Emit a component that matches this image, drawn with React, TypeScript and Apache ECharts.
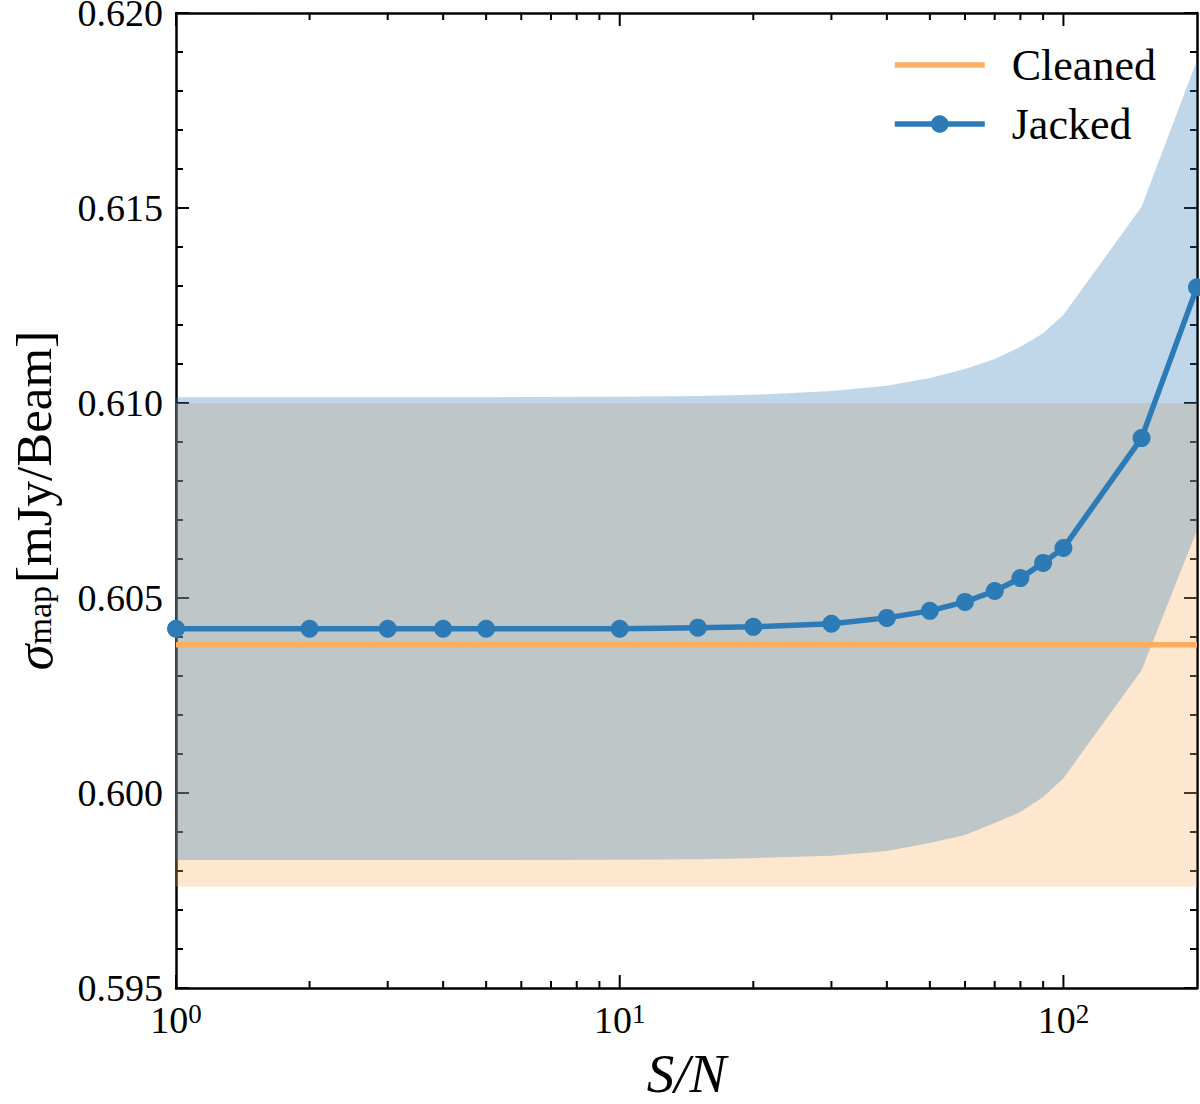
import React, { useEffect, useRef } from "react";
import * as echarts from "echarts";

// ---- data ----
const snr = [1, 2, 3, 4, 5, 10, 15, 20, 30, 40, 50, 60, 70, 80, 90, 100, 150, 200];
const jacked = [0.60421, 0.60421, 0.60421, 0.60421, 0.60421, 0.60421, 0.60424, 0.60426, 0.60434, 0.60449, 0.60467, 0.6049, 0.60518, 0.60551, 0.6059, 0.60628, 0.6091, 0.61297];
const jackedUpper = [0.61015, 0.61015, 0.61015, 0.61015, 0.61015, 0.61016, 0.61018, 0.61021, 0.61031, 0.61044, 0.61064, 0.61087, 0.61113, 0.61144, 0.61179, 0.61226, 0.61503, 0.61879];
const jackedLower = [0.59828, 0.59828, 0.59828, 0.59828, 0.59828, 0.59829, 0.5983, 0.59833, 0.59839, 0.59851, 0.59872, 0.59892, 0.59923, 0.59951, 0.5999, 0.60038, 0.60315, 0.60674];
const cleanedX = [1, 200];
const cleaned = [0.6038, 0.6038];
const cleanedUpper = [0.61, 0.61];
const cleanedLower = [0.5976, 0.5976];
const xMajorTicks = [1, 10, 100];
const xMinorTicks = [2, 3, 4, 5, 6, 7, 8, 9, 20, 30, 40, 50, 60, 70, 80, 90];
const Y_MIN = 0.595;
const Y_MAX = 0.62;
const Y_STEP = 0.005;
const X_MIN = 1;
const X_MAX = 200;

const BLUE = "#2c7bb6";
const ORANGE = "#fdae61";
const FONT = "Liberation Serif";

function bandSeries(name: string, xs: number[], lo: number[], hi: number[], color: string, z: number) {
  return {
    name,
    type: "custom",
    silent: true,
    z,
    encode: { x: 0, y: 1 },
    data: xs.map((x, i) => [x, lo[i], hi[i]]),
    renderItem: (params: any, api: any) => {
      if (params.dataIndex !== 0) return null;
      const top = xs.map((x, i) => api.coord([x, hi[i]]));
      const bot = xs.map((x, i) => api.coord([x, lo[i]])).reverse();
      return {
        type: "polygon",
        shape: { points: [...top, ...bot] },
        style: { fill: color, opacity: 0.3 },
      };
    },
  };
}

export default function App() {
  const ref = useRef<HTMLDivElement>(null);
  useEffect(() => {
    if (!ref.current) return;
    const chart = echarts.init(ref.current, undefined, { renderer: "svg" });
    const tickData = [
      ...xMajorTicks.map((v) => [v, Y_MIN, 1]),
      ...xMinorTicks.map((v) => [v, Y_MIN, 0]),
    ];
    const yAxisCommon = {
      type: "value",
      min: Y_MIN,
      max: Y_MAX,
      interval: Y_STEP,
      splitLine: { show: false },
      axisLine: { show: true, lineStyle: { color: "#000", width: 2.5 } },
      axisTick: { show: true, inside: true, length: 13, lineStyle: { color: "#000", width: 2 } },
      minorTick: { show: true, splitNumber: 5, length: 7, lineStyle: { color: "#000", width: 2 } },
    };
    const option: any = {
      animation: false,
      backgroundColor: "#fff",
      textStyle: { fontFamily: FONT },
      grid: { left: 176, right: 3, top: 13, bottom: 116, containLabel: false, outerBoundsMode: "none" },
      legend: {
        orient: "vertical",
        left: 887,
        top: 38,
        data: [{ name: "Cleaned", itemStyle: { opacity: 0 } }, { name: "Jacked" }],
        itemWidth: 90,
        itemHeight: 22,
        itemGap: 15,
        lineStyle: { width: 5.5 },
        textStyle: { fontFamily: FONT, fontSize: 44, color: "#000", lineHeight: 44, padding: [0, 0, 0, 22] },
      },
      xAxis: [
        {
          type: "log",
          logBase: 10,
          min: X_MIN,
          max: X_MAX,
          position: "bottom",
          name: "S/N",
          nameLocation: "middle",
          nameGap: 63,
          nameTextStyle: { fontFamily: FONT, fontSize: 55, lineHeight: 44, fontStyle: "italic", color: "#000" },
          splitLine: { show: false },
          axisLine: { show: true, lineStyle: { color: "#000", width: 2.5 } },
          axisTick: { show: false },
          minorTick: { show: false },
          axisLabel: {
            show: true,
            margin: 12,
            showMaxLabel: false,
            formatter: (v: number) => {
              const e = Math.round(Math.log10(v));
              if (Math.abs(Math.pow(10, e) - v) > 1e-6 * v) return "";
              return `{b|10}{s|${e}}`;
            },
            rich: {
              b: { fontFamily: FONT, fontSize: 38, color: "#000", lineHeight: 40 },
              s: { fontFamily: FONT, fontSize: 27, color: "#000", lineHeight: 22, verticalAlign: "top" },
            },
          },
        },
        {
          type: "log",
          logBase: 10,
          min: X_MIN,
          max: X_MAX,
          position: "top",
          splitLine: { show: false },
          axisLine: { show: true, lineStyle: { color: "#000", width: 2.5 } },
          axisTick: { show: false },
          minorTick: { show: false },
          axisLabel: { show: false },
        },
      ],
      yAxis: [
        {
          ...yAxisCommon,
          position: "left",
          name: "{i|σ}{s|map} {n|[mJy/Beam]}",
          nameLocation: "middle",
          nameRotate: 90,
          nameGap: 120,
          nameTextStyle: {
            rich: {
              i: { fontFamily: FONT, fontSize: 52, fontStyle: "italic", color: "#000", lineHeight: 44 },
              s: { fontFamily: FONT, fontSize: 34, color: "#000", lineHeight: 24, verticalAlign: "bottom" },
              n: { fontFamily: FONT, fontSize: 51, color: "#000", lineHeight: 44 },
            },
          },
          axisLabel: {
            show: true,
            margin: 13,
            fontFamily: FONT,
            fontSize: 38,
            lineHeight: 30,
            color: "#000",
            formatter: (v: number) => v.toFixed(3),
          },
        },
        {
          ...yAxisCommon,
          position: "right",
          axisLabel: { show: false },
        },
      ],
      series: [
        bandSeries("cleanedBand", cleanedX, cleanedLower, cleanedUpper, ORANGE, 1),
        bandSeries("jackedBand", snr, jackedLower, jackedUpper, BLUE, 2),
        {
          name: "Cleaned",
          type: "line",
          data: cleanedX.map((x, i) => [x, cleaned[i]]),
          symbol: "none",
          color: ORANGE,
          lineStyle: { color: ORANGE, width: 5.5 },
          z: 3,
        },
        {
          name: "Jacked",
          type: "line",
          data: snr.map((x, i) => [x, jacked[i]]),
          symbol: "circle",
          symbolSize: 18,
          showAllSymbol: true,
          color: BLUE,
          itemStyle: { color: BLUE },
          lineStyle: { color: BLUE, width: 5.5 },
          z: 4,
        },
        {
          name: "xticks",
          type: "custom",
          silent: true,
          clip: false,
          z: 10,
          encode: { x: 0, y: 1 },
          data: tickData,
          renderItem: (params: any, api: any) => {
            const x = api.value(0);
            const major = api.value(2) === 1;
            const b = api.coord([x, Y_MIN]);
            const t = api.coord([x, Y_MAX]);
            const len = major ? 13 : 7;
            const style = { stroke: "#000", lineWidth: 2 };
            return {
              type: "group",
              children: [
                { type: "line", shape: { x1: b[0], y1: b[1], x2: b[0], y2: b[1] - len }, style },
                { type: "line", shape: { x1: t[0], y1: t[1], x2: t[0], y2: t[1] + len }, style },
              ],
            };
          },
        },
      ],
    };
    chart.setOption(option);
    return () => chart.dispose();
  }, []);
  return (
    <div
      ref={ref}
      style={{ position: "fixed", left: 0, top: 0, width: 1200, height: 1104, background: "#fff" }}
    />
  );
}
